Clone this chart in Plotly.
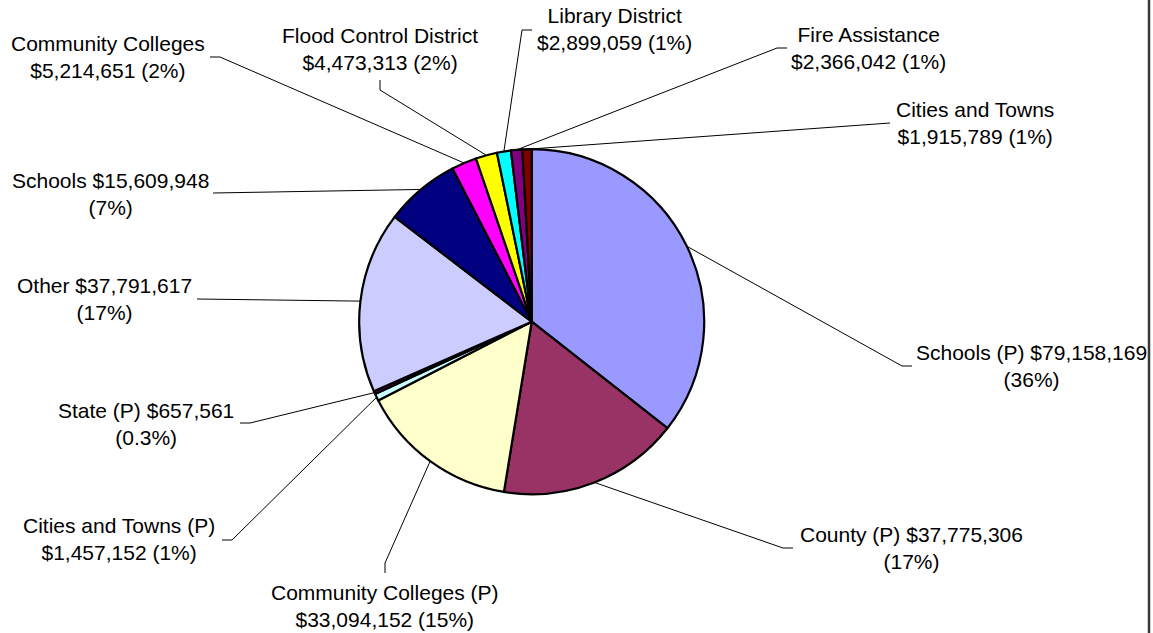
import math
import plotly.graph_objects as go

# ---------------- data ----------------
categories = ["Schools (P)", "County (P)", "Community Colleges (P)", "Cities and Towns (P)",
              "State (P)", "Other", "Schools", "Community Colleges",
              "Flood Control District", "Library District", "Fire Assistance", "Cities and Towns"]
values = [79158169, 37775306, 33094152, 1457152, 657561, 37791617,
          15609948, 5214651, 4473313, 2899059, 2366042, 1915789]
pct_labels = ["36%", "17%", "15%", "1%", "0.3%", "17%", "7%", "2%", "2%", "1%", "1%", "1%"]
colors = ["#9999FF", "#993366", "#FFFFCC", "#CCFFFF", "#660066", "#CCCCFF",
          "#000080", "#FF00FF", "#FFFF00", "#00FFFF", "#800080", "#800000"]

# ---------------- layout (pixels) ----------------
W, H = 1153, 633
CX, CY, R = 531.7, 321.7, 172.5
# where the line break falls in each label
label_break = ["value", "value", "name", "name", "value", "value",
               "value", "name", "name", "name", "name", "name"]
# centre of each label block
label_cx = [1031, 911, 385, 119, 146, 104, 110, 108, 380, 614, 868, 975]
label_cy = [366, 548, 606, 539, 424, 298.5, 194, 56.5, 49, 29, 47.5, 122.5]
# point where the leader line meets the label, and direction of the short stub
attach_x = [912, 793, 385, 222, 240, 197, 213, 210, 380, 532, 787, 890]
attach_y = [366, 548, 573, 540, 423, 299, 193, 57, 80, 30, 48, 123]
stub_dir = ["left", "left", "up", "right", "right", "right",
            "right", "right", "down", "left", "left", "left"]
STUB = 10

FONT = "Arial, 'Liberation Sans', sans-serif"

fig = go.Figure()

fig.add_trace(go.Pie(
    labels=categories, values=values, sort=False, direction="clockwise", rotation=0,
    marker=dict(colors=colors, line=dict(color="#000000", width=2.2)),
    textinfo="none", hoverinfo="label+value+percent", showlegend=False,
    domain=dict(x=[(CX - R) / W, (CX + R) / W],
                y=[1 - (CY + R) / H, 1 - (CY - R) / H]),
))

# leader lines: from slice mid-angle on the rim to the label
total = sum(values)
cum = 0
lx, ly = [], []
annotations = []
for i, v in enumerate(values):
    frac = (cum + v / 2) / total
    cum += v
    th = 2 * math.pi * frac
    px = CX + R * math.sin(th)
    py = CY - R * math.cos(th)
    ax, ay = attach_x[i], attach_y[i]
    d = stub_dir[i]
    ex, ey = ax, ay
    if d == "left":
        ex = ax - STUB
    elif d == "right":
        ex = ax + STUB
    elif d == "up":
        ey = ay - STUB
    elif d == "down":
        ey = ay + STUB
    lx += [px, ex, ax, None]
    ly += [py, ey, ay, None]

    name = categories[i]
    val = "${:,}".format(v)
    if label_break[i] == "value":
        txt = f"{name} {val}<br>({pct_labels[i]})"
    else:
        txt = f"{name}<br>{val} ({pct_labels[i]})"
    annotations.append(dict(
        x=label_cx[i], y=label_cy[i], xref="x", yref="y", text=txt, showarrow=False,
        xanchor="center", yanchor="middle", align="center",
        font=dict(family=FONT, size=21, color="#000000"),
    ))

fig.add_trace(go.Scatter(
    x=lx, y=ly, mode="lines", line=dict(color="#000000", width=1),
    hoverinfo="skip", showlegend=False,
))

fig.update_layout(
    width=W, height=H,
    margin=dict(l=0, r=0, t=0, b=0),
    paper_bgcolor="#FFFFFF", plot_bgcolor="rgba(0,0,0,0)",
    xaxis=dict(range=[0, W], visible=False, fixedrange=True, domain=[0, 1]),
    yaxis=dict(range=[H, 0], visible=False, fixedrange=True, domain=[0, 1]),
    annotations=annotations,
    shapes=[dict(type="line", xref="paper", yref="paper", x0=1149 / W, x1=1149 / W,
                 y0=0, y1=1, layer="above", line=dict(color="#3A3A3A", width=2.5))],
    font=dict(family=FONT),
)

fig.write_html(
    "out.html",
    config={"displayModeBar": False},
    post_script="document.body.style.margin='0px';document.body.style.overflow='hidden';",
)
